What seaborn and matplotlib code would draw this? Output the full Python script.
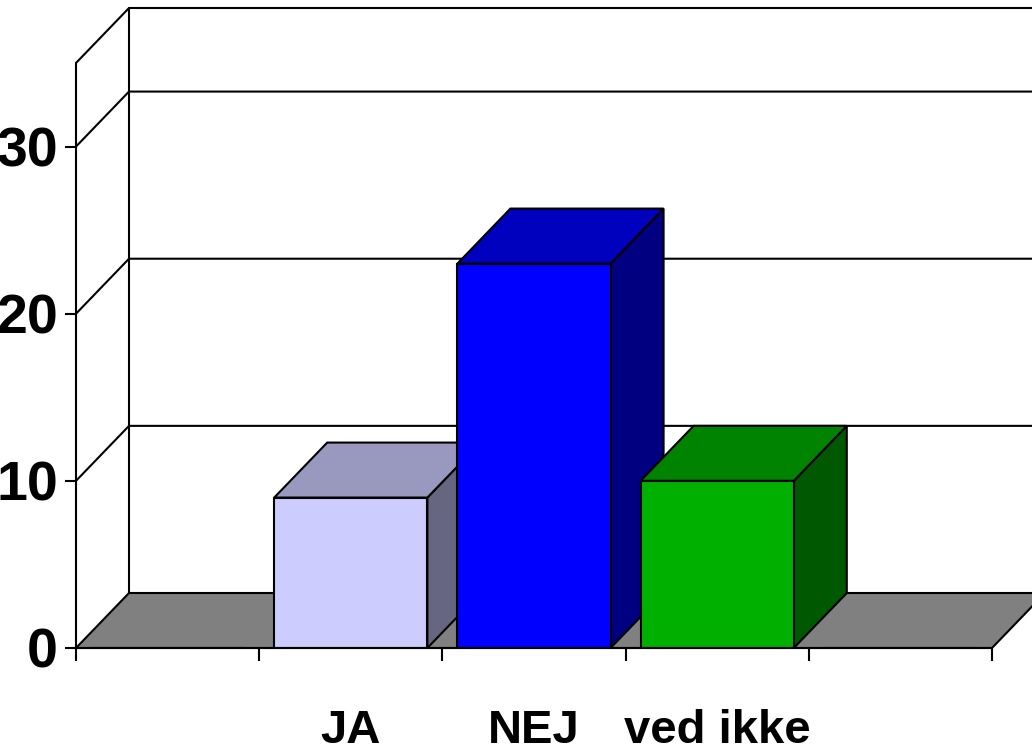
"""
Purpose: pseudo 3D column chart, JA / NEJ / ved ikke
"""

# Dependencies
import pandas as pd
import seaborn as sns
import matplotlib.pyplot as plt
from matplotlib.patches import Polygon

# Data
categories = ['_a', 'JA', 'NEJ', 'ved ikke', '_b']
tick_labels = ['', 'JA', 'NEJ', 'ved ikke', '']
values = [0, 9, 23, 10, 0]
y_ticks = [0, 10, 20, 30]
front_colors = ['#CCCCFF', '#CCCCFF', '#0000FF', '#00B000', '#00B000']
top_colors = ['#9999BF', '#9999BF', '#0000BF', '#008400', '#008400']
side_colors = ['#666680', '#666680', '#000080', '#005800', '#005800']

sns.set_style('white')
plt.rcParams['font.family'] = ['Liberation Sans Narrow', 'Liberation Sans', 'DejaVu Sans']
plt.rcParams['text.color'] = 'black'
plt.rcParams['xtick.color'] = 'black'
plt.rcParams['ytick.color'] = 'black'

W, H = 1032, 751
LW = 1.5
fig = plt.figure(figsize=(W / 100, H / 100), dpi=100)
ax = fig.add_axes([76 / W, 1 - 648 / H, (992 - 76) / W, (648 - 63) / H])

df = pd.DataFrame({'answer': categories, 'value': values})
sns.barplot(data=df, x='answer', y='value', hue='answer', palette=front_colors, saturation=1,
            legend=False, width=0.836, edgecolor='black', linewidth=LW, ax=ax, zorder=5)
ax.set_xlim(-0.5, 4.5)
ax.set_ylim(0, 35)

# depth offset of the 3D box in data units
dx = 53 / (916 / 5)
dy = 55 / (585 / 35)
x0, x1 = -0.5, 4.5
y_top = 35

# floor
ax.add_patch(Polygon([(x0, 0), (x0 + dx, dy), (x1 + dx, dy), (x1, 0)], closed=True,
                     facecolor='#808080', edgecolor='black', linewidth=LW, clip_on=False, zorder=1))

# back wall and left wall lines
for y in y_ticks[1:] + [y_top]:
    ax.plot([x0, x0 + dx, x1 + dx], [y, y + dy, y + dy], color='black', lw=LW,
            clip_on=False, zorder=2)
ax.plot([x0 + dx, x0 + dx], [dy, y_top + dy], color='black', lw=LW, clip_on=False, zorder=2)

# side and top faces of each bar
for i, patch in enumerate(ax.patches):
    if i >= len(values) or values[i] == 0:
        continue
    left = patch.get_x()
    right = left + patch.get_width()
    h = patch.get_height()
    z = 3 + i * 0.1
    patch.set_zorder(z + 0.05)
    ax.add_patch(Polygon([(right, 0), (right + dx, dy), (right + dx, h + dy), (right, h)], closed=True,
                         facecolor=side_colors[i], edgecolor='black', linewidth=LW, zorder=z))
    ax.add_patch(Polygon([(left, h), (left + dx, h + dy), (right + dx, h + dy), (right, h)], closed=True,
                         facecolor=top_colors[i], edgecolor='black', linewidth=LW, zorder=z))

# axes
sns.despine(ax=ax, top=True, right=True, left=False, bottom=False)
for side in ['left', 'bottom']:
    ax.spines[side].set_linewidth(LW)
    ax.spines[side].set_color('black')
    ax.spines[side].set_zorder(6)
ax.set_xlabel('')
ax.set_ylabel('')
ax.set_yticks(y_ticks)
ax.set_xticks(range(5))
ax.set_xticklabels(tick_labels, fontsize=34, fontweight='bold')
ax.set_xticks([x0 + i for i in range(6)], minor=True)
ax.tick_params(axis='x', which='major', length=0, pad=44)
ax.tick_params(axis='x', which='minor', length=9, width=LW, color='black', bottom=True)
ax.tick_params(axis='y', length=8, width=LW, color='black', left=True, pad=5, labelsize=40)
for t in ax.get_yticklabels():
    t.set_fontweight('bold')

fig.savefig('out.png', dpi=100)
plt.close(fig)
